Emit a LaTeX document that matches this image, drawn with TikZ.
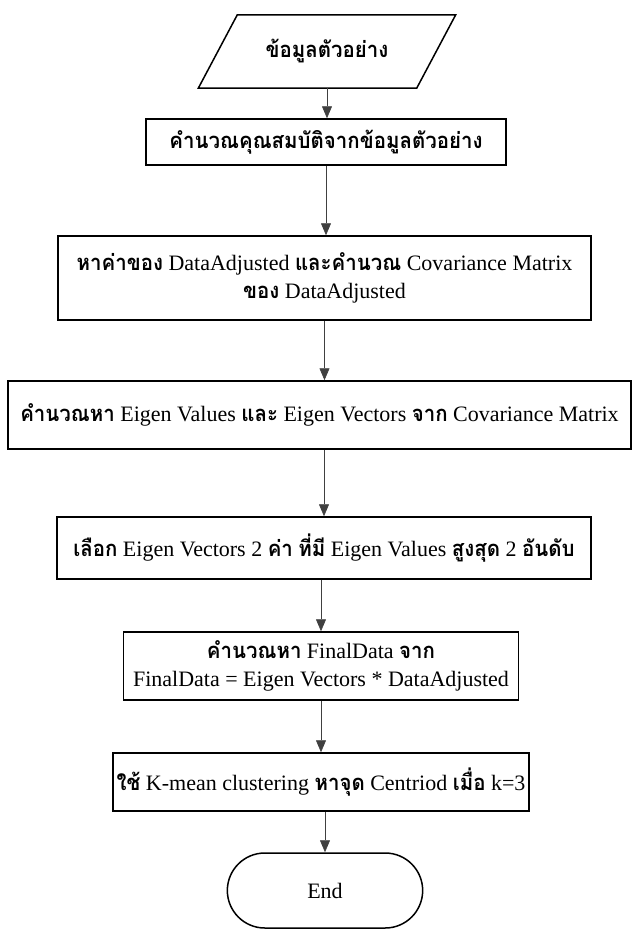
\documentclass[tikz,border=0pt]{standalone}
\usepackage{fontspec}
\setmainfont{Liberation Serif}
\newfontfamily\thaifont[Script=Thai,FakeStretch=0.93]{Loma}
\newcommand\tht[1]{{\thaifont\bfseries #1}}
\usetikzlibrary{arrows.meta,shapes.misc,calc}
\tikzset{
  boxline/.style={draw=black,line width=1.5pt},
  procbox/.style={boxline,rectangle,align=center,inner sep=0pt},
  flowarrow/.style={draw=black!75,line width=0.7pt,-{Triangle[length=12pt,width=10pt]}},
}
\begin{document}
\begin{tikzpicture}[x=1pt,y=-1pt,font=\fontsize{22}{28.5}\selectfont]
\useasboundingbox (0,0) rectangle (632,930);

% input data (parallelogram)
\node[minimum width=218pt,minimum height=73pt,inner sep=0pt] (in) at (327,51.5) {\tht{ข้อมูลตัวอย่าง}};
\draw[boxline] ($(in.north west)+(19.5,0)$) -- ($(in.north east)+(19.5,0)$)
  -- ($(in.south east)+(-19.5,0)$) -- ($(in.south west)+(-19.5,0)$) -- cycle;

% processing steps
\node[procbox,minimum width=360pt,minimum height=46pt] (b1) at (326,142)
  {\tht{คำนวณคุณสมบัติจากข้อมูลตัวอย่าง}};
\node[procbox,minimum width=533pt,minimum height=84pt] (b2) at (324.5,278)
  {\tht{หาค่าของ} DataAdjusted \tht{และคำนวณ} Covariance Matrix\\ \tht{ของ} DataAdjusted};
\node[procbox,minimum width=623pt,minimum height=68pt] (b3) at (319.5,415)
  {\tht{คำนวณหา} Eigen Values \tht{และ} Eigen Vectors \tht{จาก} Covariance Matrix};
\node[procbox,minimum width=534pt,minimum height=62pt] (b4) at (324,548)
  {\tht{เลือก} Eigen Vectors 2 \tht{ค่า} \tht{ที่มี} Eigen Values \tht{สูงสุด} 2 \tht{อันดับ}};
\node[procbox,minimum width=395pt,minimum height=68pt] (b5) at (321,666)
  {\tht{คำนวณหา} FinalData \tht{จาก}\\ FinalData = Eigen Vectors * DataAdjusted};
\node[procbox,minimum width=416pt,minimum height=58pt] (b6) at (321,782)
  {\tht{ใช้} K-mean clustering \tht{หาจุด} Centriod \tht{เมื่อ} k=3};

% terminator
\node[boxline,rounded rectangle,minimum width=202pt,minimum height=75pt] (end) at (325,890.5) {End};

% connectors
\draw[flowarrow] (in.south) -- (in.south |- b1.north);
\draw[flowarrow] (b1.south) -- (b1.south |- b2.north);
\draw[flowarrow] (b2.south) -- (b2.south |- b3.north);
\draw[flowarrow] (b3.south -| b4.north) -- (b4.north);
\draw[flowarrow] (b4.south -| b5.north) -- (b5.north);
\draw[flowarrow] (b5.south) -- (b6.north);
\draw[flowarrow] (b6.south -| end.north) -- (end.north);
\end{tikzpicture}
\end{document}
